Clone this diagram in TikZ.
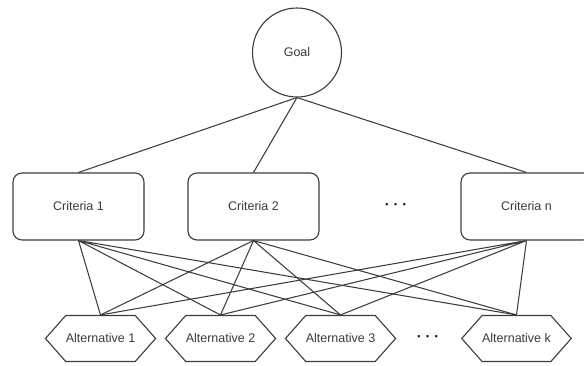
\documentclass[tikz,border=0pt]{standalone}
\usepackage{fontspec}
\setmainfont{Liberation Sans}
\usetikzlibrary{shapes.symbols}

\definecolor{linegray}{HTML}{3C3C3C}
\definecolor{textgray}{HTML}{3A3A3A}

\newcommand{\tridots}{·\hspace{4pt}·\hspace{4pt}·}

\begin{document}
\begin{tikzpicture}[
    x=1pt, y=-1pt,
    % Stílusok a csomópontokhoz
    goalnode/.style={circle, draw=linegray, line width=1.1pt, minimum size=89pt,
        inner sep=0pt, text=textgray, font=\fontsize{12.5}{14}\selectfont},
    critnode/.style={rectangle, rounded corners=9pt, draw=linegray, line width=1.1pt,
        minimum width=131pt, minimum height=67pt, text=textgray,
        font=\fontsize{12.5}{14}\selectfont},
    altnode/.style={signal, signal to=west and east, signal pointer angle=97,
        draw=linegray, line width=1.1pt, minimum width=109pt, minimum height=46pt,
        inner sep=0pt, text=textgray, font=\fontsize{12.5}{14}\selectfont},
    dotsnode/.style={text=black, font=\bfseries\Large},
    link/.style={linegray, line width=1.05pt}
]

    % Képkeret
    \useasboundingbox (0,0) rectangle (584,365);

    % Cél
    \node[goalnode] (goal) at (297,52.5) {Goal};

    % Kritériumok
    \node[critnode] (crit1) at (78.5,206.5) {Criteria 1};
    \node[critnode] (crit2) at (253.5,206.5) {Criteria 2};
    \node[critnode] (critn) at (526.5,206.5) {Criteria n};
    \node[dotsnode] (critdots) at (396,206.5) {\tridots};

    % Alternatívák
    \node[altnode] (alt1) at (100.5,338.5) {Alternative 1};
    \node[altnode] (alt2) at (220.5,338.5) {Alternative 2};
    \node[altnode] (alt3) at (340.5,338.5) {Alternative 3};
    \node[altnode] (altk) at (516.5,338.5) {Alternative k};
    \node[dotsnode] (altdots) at (428,338.5) {\tridots};

    % Cél -> kritériumok
    \draw[link] (goal.south) -- (crit1.north);
    \draw[link] (goal.south) -- (crit2.north);
    \draw[link] (goal.south) -- (critn.north);

    % Kritériumok -> alternatívák
    \draw[link] (crit1.south) -- (alt1.north) (crit1.south) -- (alt2.north)
        (crit1.south) -- (alt3.north) (crit1.south) -- (altk.north);
    \draw[link] (crit2.south) -- (alt1.north) (crit2.south) -- (alt2.north)
        (crit2.south) -- (alt3.north) (crit2.south) -- (altk.north);
    \draw[link] (critn.south) -- (alt1.north) (critn.south) -- (alt2.north)
        (critn.south) -- (alt3.north) (critn.south) -- (altk.north);
\end{tikzpicture}
\end{document}
